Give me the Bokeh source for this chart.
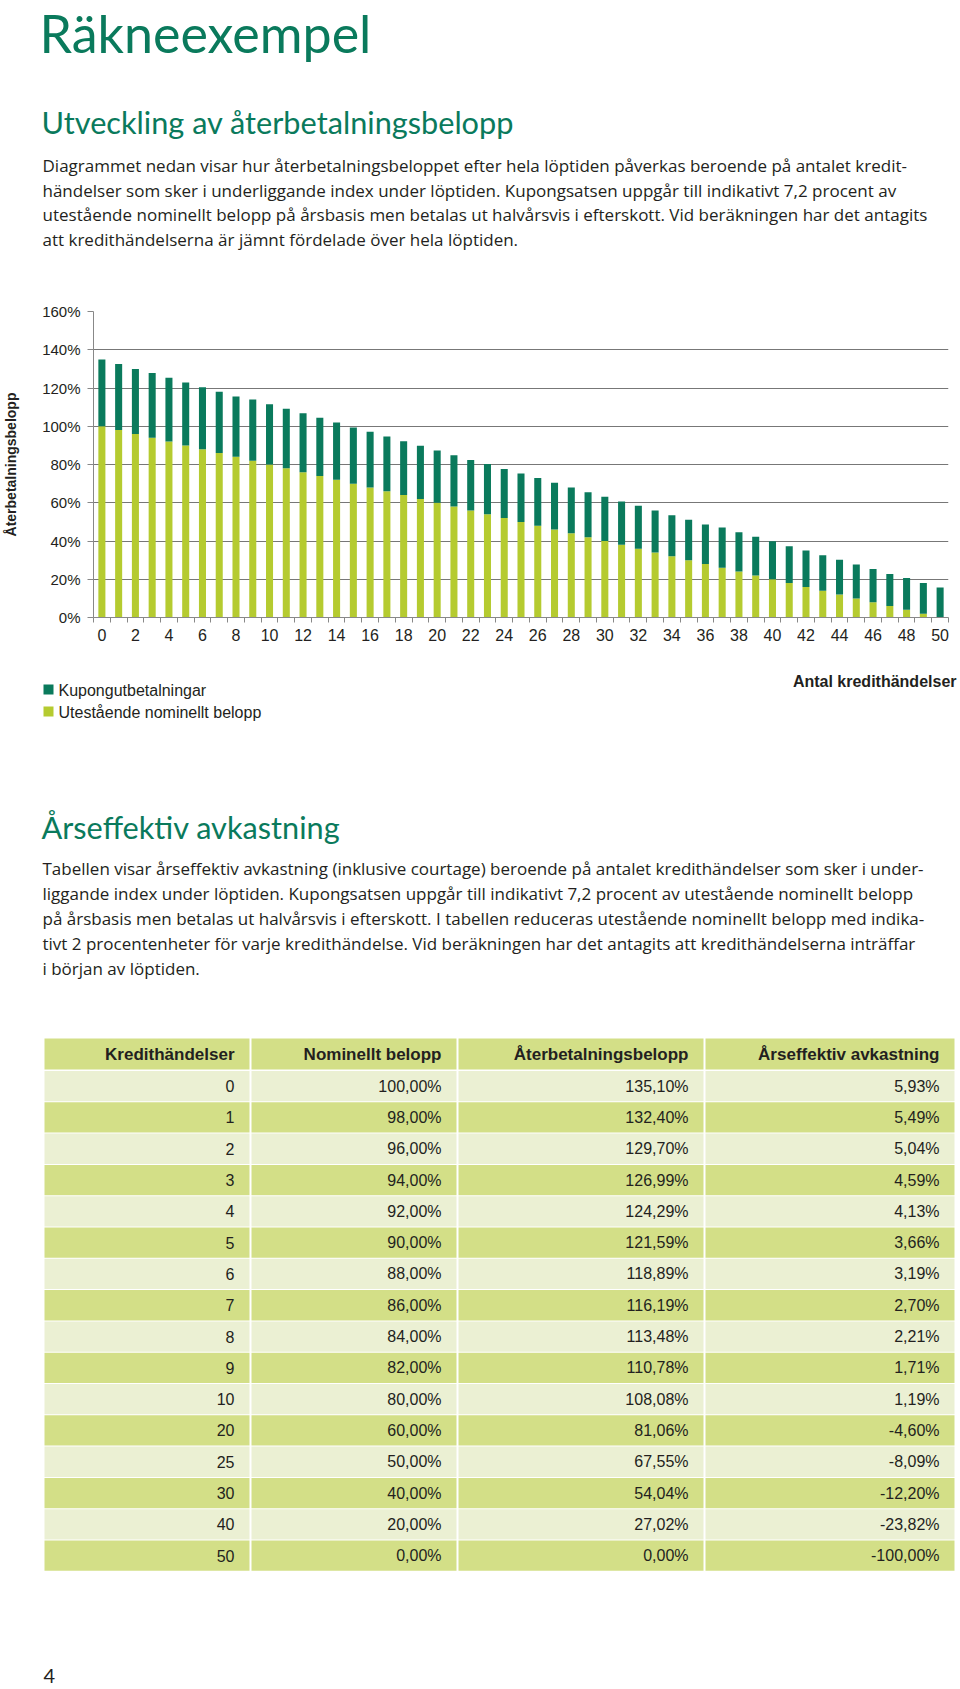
from bokeh.plotting import figure
from bokeh.models import Range1d, FixedTicker, PrintfTickFormatter, ColumnDataSource
from bokeh.layouts import column
from bokeh.core.properties import value
from bokeh.embed import file_html
from bokeh.resources import INLINE

# ---------------- data ----------------
chart_events = list(range(0, 51))
chart_nominal = [100, 98, 96, 94, 92, 90, 88, 86, 84, 82, 80, 78, 76, 74, 72, 70, 68, 66, 64, 62,
                 60, 58, 56, 54, 52, 50, 48, 46, 44, 42, 40, 38, 36, 34, 32, 30, 28, 26, 24, 22,
                 20, 18, 16, 14, 12, 10, 8, 6, 4, 2, 0]
chart_total = [134.9, 132.6, 130.0, 127.8, 125.3, 122.9, 120.4, 118.0, 115.6, 114.0, 111.5, 109.1,
               106.8, 104.4, 102.0, 99.3, 97.1, 94.6, 92.2, 89.8, 87.3, 84.9, 82.4, 80.2, 77.7,
               75.3, 72.9, 70.4, 68.0, 65.5, 63.1, 60.7, 58.4, 55.9, 53.5, 51.1, 48.6, 47.1, 44.6,
               42.2, 39.9, 37.3, 35.0, 32.6, 30.2, 27.7, 25.3, 22.8, 20.6, 18.1, 15.7]
y_ticks = [0, 20, 40, 60, 80, 100, 120, 140, 160]
x_ticks = list(range(0, 51, 2))

legend_labels = ["Kupongutbetalningar", "Utestående nominellt belopp"]

table_headers = ["Kredithändelser", "Nominellt belopp", "Återbetalningsbelopp", "Årseffektiv avkastning"]
table_events = [0, 1, 2, 3, 4, 5, 6, 7, 8, 9, 10, 20, 25, 30, 40, 50]
table_nominal = [100.00, 98.00, 96.00, 94.00, 92.00, 90.00, 88.00, 86.00, 84.00, 82.00, 80.00,
                 60.00, 50.00, 40.00, 20.00, 0.00]
table_repay = [135.10, 132.40, 129.70, 126.99, 124.29, 121.59, 118.89, 116.19, 113.48, 110.78,
               108.08, 81.06, 67.55, 54.04, 27.02, 0.00]
table_annual = [5.93, 5.49, 5.04, 4.59, 4.13, 3.66, 3.19, 2.70, 2.21, 1.71, 1.19, -4.60, -8.09,
                -12.20, -23.82, -100.00]

title = "Räkneexempel"
heading1 = "Utveckling av återbetalningsbelopp"
para1 = [
    "Diagrammet nedan visar hur återbetalningsbeloppet efter hela löptiden påverkas beroende på antalet kredit-",
    "händelser som sker i underliggande index under löptiden. Kupongsatsen uppgår till indikativt 7,2 procent av",
    "utestående nominellt belopp på årsbasis men betalas ut halvårsvis i efterskott. Vid beräkningen har det antagits",
    "att kredithändelserna är jämnt fördelade över hela löptiden.",
]
heading2 = "Årseffektiv avkastning"
para2 = [
    "Tabellen visar årseffektiv avkastning (inklusive courtage) beroende på antalet kredithändelser som sker i under-",
    "liggande index under löptiden. Kupongsatsen uppgår till indikativt 7,2 procent av utestående nominellt belopp",
    "på årsbasis men betalas ut halvårsvis i efterskott. I tabellen reduceras utestående nominellt belopp med indika-",
    "tivt 2 procentenheter för varje kredithändelse. Vid beräkningen har det antagits att kredithändelserna inträffar",
    "i början av löptiden.",
]
x_title = "Antal kredithändelser"
y_title = "Återbetalningsbelopp"
page_no = "4"

# ---------------- style ----------------
W = 960
GREEN = "#0a7a5c"
LIGHT = "#b5cb30"
TXT = "#231f20"
ROW_DARK = "#d3df87"
ROW_LIGHT = "#ebf0d3"
HEAD_FONT = value("Lato")
BODY_FONT = value("Open Sans")
SANS = value("Liberation Sans")


def no_align(p):
    try:
        p.frame_align = False
    except Exception:
        pass


def canvas(h):
    p = figure(width=W, height=h, x_range=Range1d(0, W), y_range=Range1d(h, 0),
               toolbar_location=None, output_backend="svg",
               min_border_left=0, min_border_right=0, min_border_top=0, min_border_bottom=0,
               x_axis_location=None, y_axis_location=None, outline_line_color=None)
    p.grid.visible = False
    no_align(p)
    return p


# ---------------- header text ----------------
H1 = 300
top = canvas(H1)
top.text(x=[39], y=[32], text=[title], text_font=HEAD_FONT, text_font_size="52px",
         text_color=GREEN, text_baseline="middle")
top.text(x=[41], y=[122], text=[heading1], text_font=HEAD_FONT, text_font_size="30.7px",
         text_color=GREEN, text_baseline="middle")
top.text(x=[42] * len(para1), y=[165 + 24.7 * i for i in range(len(para1))], text=para1,
         text_font=BODY_FONT, text_font_size="17px", text_color=TXT, text_baseline="middle")

# ---------------- chart ----------------
chart = figure(width=W, height=360, x_range=Range1d(-0.5, 50.5), y_range=Range1d(0, 160),
               toolbar_location=None, output_backend="svg", outline_line_color=None,
               min_border_left=93, min_border_right=12, min_border_top=11, min_border_bottom=43)
no_align(chart)
src = ColumnDataSource(dict(x=chart_events, nom=chart_nominal, tot=chart_total))
chart.vbar(x="x", width=0.42, bottom=0, top="nom", source=src, fill_color=LIGHT, line_color=None)
chart.vbar(x="x", width=0.42, bottom="nom", top="tot", source=src, fill_color=GREEN, line_color=None)

chart.xgrid.grid_line_color = None
chart.ygrid.grid_line_color = "#777777"
chart.ygrid.grid_line_width = 1

xa = chart.xaxis[0]
xa.ticker = FixedTicker(ticks=x_ticks, minor_ticks=[i - 0.5 for i in range(52)])
xa.major_tick_line_color = None
xa.major_tick_out = 5
xa.major_tick_in = 0
xa.minor_tick_out = 5
xa.minor_tick_in = 0
xa.minor_tick_line_color = "#888888"
xa.axis_line_color = "#888888"
xa.major_label_text_font = "Liberation Sans"
xa.major_label_text_font_size = "16px"
xa.major_label_text_color = TXT
xa.major_label_standoff = 6

ya = chart.yaxis[0]
ya.ticker = FixedTicker(ticks=y_ticks)
ya.formatter = PrintfTickFormatter(format="%d%%")
ya.major_tick_out = 6
ya.major_tick_in = 0
ya.minor_tick_line_color = None
ya.major_tick_line_color = "#888888"
ya.axis_line_color = "#888888"
ya.major_label_text_font = "Liberation Sans"
ya.major_label_text_font_size = "15px"
ya.major_label_text_color = TXT
ya.major_label_standoff = 7
ya.axis_label = y_title
ya.axis_label_text_font = "Liberation Sans"
ya.axis_label_text_font_style = "bold"
ya.axis_label_text_font_size = "14px"
ya.axis_label_text_color = TXT
ya.axis_label_standoff = 20

# ---------------- lower part ----------------
H3 = 1028
low = canvas(H3)
# axis title & legend
low.text(x=[956], y=[21], text=[x_title], text_font=SANS, text_font_size="16px",
         text_font_style="bold", text_color=TXT, text_align="right", text_baseline="middle")
low.quad(left=[43, 43], right=[53, 53], top=[24, 46], bottom=[34, 56],
         fill_color=[GREEN, LIGHT], line_color=None)
low.text(x=[58, 58], y=[30, 52], text=legend_labels, text_font=SANS, text_font_size="16px",
         text_color=TXT, text_baseline="middle")

low.text(x=[41], y=[167], text=[heading2], text_font=HEAD_FONT, text_font_size="30.7px",
         text_color=GREEN, text_baseline="middle")
low.text(x=[42] * len(para2), y=[208.4 + 24.9 * i for i in range(len(para2))], text=para2,
         text_font=BODY_FONT, text_font_size="17px", text_color=TXT, text_baseline="middle")

# table
col_left = [44, 251, 458, 705]
col_right = [249, 456, 703, 954]
head_top, head_bot = 378, 409
row0_top, pitch, row_h = 410.5, 31.3, 30.3

low.quad(left=col_left, right=col_right, top=[head_top] * 4, bottom=[head_bot] * 4,
         fill_color=ROW_DARK, line_color=None)
low.text(x=[r - 15 for r in col_right], y=[(head_top + head_bot) / 2] * 4, text=table_headers,
         text_font=SANS, text_font_size="17px", text_font_style="bold", text_color=TXT,
         text_align="right", text_baseline="middle")

fmt = lambda v: f"{v:.2f}".replace(".", ",") + "%"
cols_text = [[str(e) for e in table_events], [fmt(v) for v in table_nominal],
             [fmt(v) for v in table_repay], [fmt(v) for v in table_annual]]
qL, qR, qT, qB, qC = [], [], [], [], []
tx, ty, tt = [], [], []
for i in range(len(table_events)):
    t = row0_top + pitch * i
    color = ROW_LIGHT if i % 2 == 0 else ROW_DARK
    for c in range(4):
        qL.append(col_left[c]); qR.append(col_right[c]); qT.append(t); qB.append(t + row_h)
        qC.append(color)
        tx.append(col_right[c] - 15); ty.append(t + row_h / 2); tt.append(cols_text[c][i])
low.quad(left=qL, right=qR, top=qT, bottom=qB, fill_color=qC, line_color=None)
low.text(x=tx, y=ty, text=tt, text_font=SANS, text_font_size="16px", text_color=TXT,
         text_align="right", text_baseline="middle")

low.text(x=[43], y=[1015], text=[page_no], text_font=HEAD_FONT, text_font_size="20px",
         text_color=TXT, text_baseline="middle")

layout = column(top, chart, low)
open("out.html", "w").write(file_html(layout, INLINE))
